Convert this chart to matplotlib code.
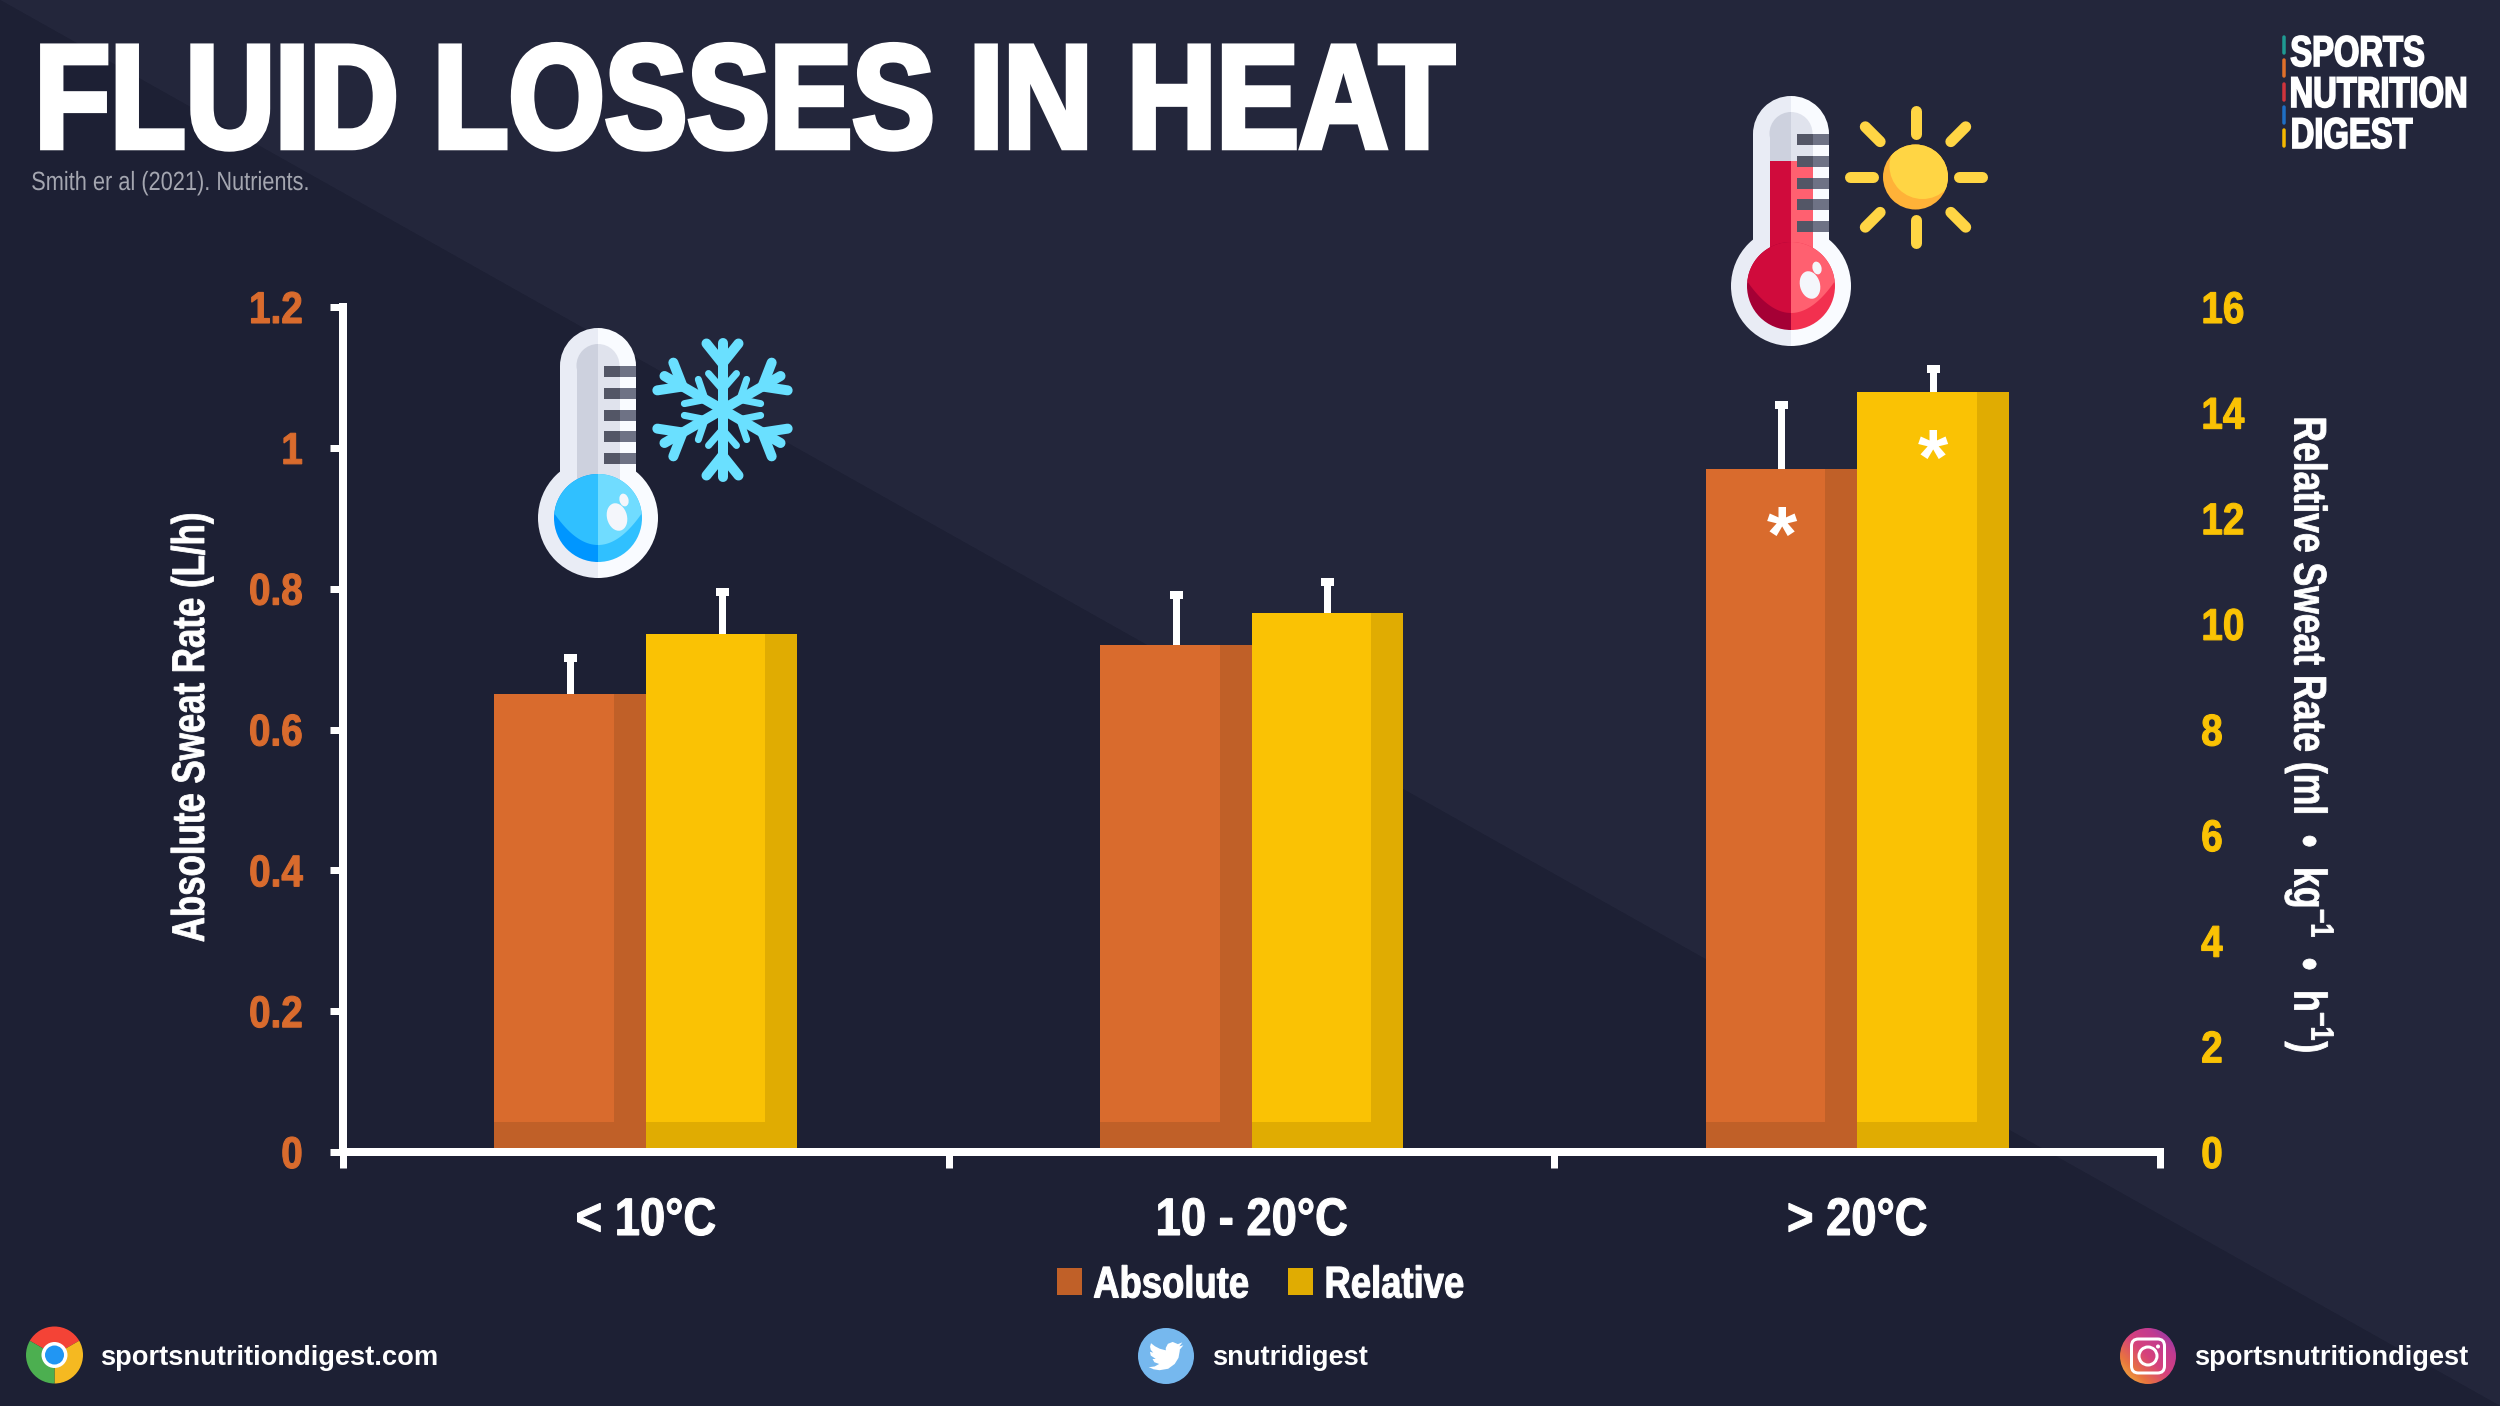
import numpy as np
import matplotlib as mpl
mpl.use("Agg")
import matplotlib.pyplot as plt
import matplotlib.patheffects as pe
from matplotlib.colors import LinearSegmentedColormap
from matplotlib.patches import Circle, Wedge, Rectangle, Polygon, FancyBboxPatch, Patch, Ellipse
from matplotlib.transforms import Affine2D

plt.rcParams['font.family'] = ['Liberation Sans', 'DejaVu Sans']
plt.rcParams['font.weight'] = 'bold'
plt.rcParams['mathtext.fontset'] = 'custom'
plt.rcParams['mathtext.rm'] = 'Liberation Sans:bold'
plt.rcParams['mathtext.default'] = 'regular'

# values
categories = ['< 10°C', '10 - 20°C', '> 20°C']
absolute = [0.65, 0.72, 0.97]
absolute_err = [0.051, 0.071, 0.091]
relative = [9.80, 10.20, 14.40]
relative_err = [0.80, 0.60, 0.42]
abs_stars = [False, False, True]
rel_stars = [False, False, True]
abs_ticks = [0, 0.2, 0.4, 0.6, 0.8, 1, 1.2]
rel_ticks = [0, 2, 4, 6, 8, 10, 12, 14, 16]

BG_LIGHT = '#23263b'
BG_DARK = '#1d2034'
ORANGE, ORANGE_DK = '#d96b2d', '#c06028'
YELLOW, YELLOW_DK = '#fac204', '#e0ac02'
WHITE = '#ffffff'


def px(v):
    # figure is 100 dpi, sizes below were measured in pixels
    return v * 0.72


class Condensed(pe.AbstractPathEffect):
    # no condensed face installed, so squeeze the glyph outlines along the text direction
    def __init__(self, sx, anchor=0.0, stroke=0.0):
        super().__init__()
        self.sx = sx
        self.anchor = anchor
        self.stroke = stroke

    def draw_path(self, renderer, gc, tpath, affine, rgbFace=None):
        ext = tpath.get_extents()
        x0 = ext.x0 + self.anchor * ext.width
        squeeze = Affine2D().translate(-x0, 0).scale(self.sx, 1).translate(x0, 0)
        gc0 = renderer.new_gc()
        gc0.copy_properties(gc)
        if self.stroke:
            gc0.set_linewidth(self.stroke)
            gc0.set_foreground(rgbFace)
            gc0.set_joinstyle('miter')
        renderer.draw_path(gc0, tpath, squeeze + affine, rgbFace)
        gc0.restore()


fig = plt.figure(figsize=(25, 14.06), dpi=100, facecolor=BG_DARK)

# pixel canvas for background, icons and footer
bg = fig.add_axes([0, 0, 1, 1], zorder=0)
bg.set_axis_off()
bg.add_patch(Polygon([(0, 0), (2500, 0), (2500, 1406)], color=BG_LIGHT, lw=0))
bg.add_patch(Polygon([(0, 0), (0, 1406), (2500, 1406)], color=BG_DARK, lw=0))


def half_capsule(cx, cap_y, r, bottom, side, color):
    ang = (90, 270) if side < 0 else (-90, 90)
    bg.add_patch(Wedge((cx, cap_y), r, *ang, color=color, lw=0))
    x0 = cx - r if side < 0 else cx
    bg.add_patch(Rectangle((x0, cap_y), r, bottom - cap_y, color=color, lw=0))


def thermometer(cx, dy, liquid_top, outer, inner, base, light, ticks):
    for i, side in enumerate((-1, 1)):
        ang = (90, 270) if side < 0 else (-90, 90)
        half_capsule(cx, 366 + dy, 38, 518 + dy, side, outer[i])
        bg.add_patch(Wedge((cx, 518 + dy), 60, *ang, color=outer[i], lw=0))
        half_capsule(cx, 365.5 + dy, 21.5, 490 + dy, side, inner[i])
        x0 = cx - 21.5 if side < 0 else cx
        bg.add_patch(Rectangle((x0, liquid_top + dy), 21.5, 495 - liquid_top, color=light[i], lw=0))
        bg.add_patch(Wedge((cx, 518 + dy), 44, *ang, color=base[i], lw=0))
        xs = np.linspace(0, 43.9, 30)
        low = 545 - 32 * (xs / 44) ** 2
        top = 518 - np.sqrt(44 ** 2 - xs ** 2)
        pts = list(zip(cx + side * xs, top + dy)) + list(zip(cx + side * xs[::-1], low[::-1] + dy))
        bg.add_patch(Polygon(pts, color=light[i], lw=0))
    bg.add_patch(Ellipse((cx + 19, 517 + dy), 20, 28, angle=-15, color='#f4f6fb', lw=0))
    bg.add_patch(Ellipse((cx + 26, 500 + dy), 9, 13, angle=-15, color='#f4f6fb', lw=0))
    for y in (366, 388, 410, 431, 453):
        bg.add_patch(Rectangle((cx + 6, y + dy), 16, 11, color=ticks[0], lw=0))
        bg.add_patch(Rectangle((cx + 22, y + dy), 16, 11, color=ticks[1], lw=0))


OUTER = ('#e9ecf5', '#f9fbff')
INNER = ('#cdd1de', '#e0e3ed')
TICKS = ('#535666', '#6e7285')
thermometer(598, 0, 480, OUTER, INNER, ('#0096ff', '#30c0ff'), ('#30c0ff', '#70dcff'), TICKS)
thermometer(1791, -232, 393, OUTER, INNER, ('#a50035', '#f2304f'), ('#d00b3c', '#ff6070'), TICKS)

# snowflake
SNOW = '#6ae0ff'
c = np.array([722.5, 409.5])
for a in np.deg2rad([30, 90, 150, 210, 270, 330]):
    u = np.array([np.cos(a), np.sin(a)])
    v = np.array([-u[1], u[0]])
    bg.plot(*np.c_[c, c + u * 67], color=SNOW, lw=px(10), solid_capstyle='round')
    for s in (-1, 1):
        bg.plot(*np.c_[c + u * 46, c + u * 66 + v * s * 16], color=SNOW, lw=px(10), solid_capstyle='round')
        bg.plot(*np.c_[c + u * 20, c + u * 36 + v * s * 14], color=SNOW, lw=px(7), solid_capstyle='round')

# sun
SUN = '#ffd544'
sx, sy = 1915.5, 177
sun_base = Circle((sx, sy), 32.5, color='#ffb238', lw=0)
bg.add_patch(sun_base)
sun_top = Circle((sx + 7, sy - 11), 33, color=SUN, lw=0)
bg.add_patch(sun_top)
sun_top.set_clip_path(sun_base)
for deg in range(0, 360, 45):
    a = np.deg2rad(deg)
    r0, r1 = (43, 66) if deg % 90 == 0 else (50, 71)
    u = np.array([np.cos(a), np.sin(a)])
    bg.plot([sx + u[0] * r0, sx + u[0] * r1], [sy + u[1] * r0, sy + u[1] * r1], color=SUN, lw=px(11),
            solid_capstyle='round')

# logo
bar_cols = ['#1f9a92', '#e0702a', '#d0343c', '#1f6fc4', '#f5b800']
bar_y = [35, 58.5, 82, 105, 128]
for col, y in zip(bar_cols, bar_y):
    bg.plot([2283.5, 2283.5], [y + 1.5, y + 17.5], color=col, lw=px(3.5), solid_capstyle='round')
bg.text(2290, 66, 'SPORTS', color=WHITE, fontsize=31, va='baseline', ha='left',
        path_effects=[Condensed(0.76, 0, 1.2)])
bg.text(2468, 107, 'NUTRITION', color=WHITE, fontsize=31, va='baseline', ha='right',
        path_effects=[Condensed(0.76, 1, 1.2)])
bg.text(2290, 148, 'DIGEST', color=WHITE, fontsize=31, va='baseline', ha='left',
        path_effects=[Condensed(0.76, 0, 1.2)])

# title
bg.text(33, 147.5, 'FLUID LOSSES IN HEAT', color=WHITE, fontsize=106, va='baseline', ha='left',
        path_effects=[Condensed(0.84, 0, 4)])
bg.text(31, 190, 'Smith er al (2021). Nutrients.', color='#a4a6b0', fontsize=19, weight='normal',
        va='baseline', ha='left', path_effects=[Condensed(0.825)])

# footer
FOOT = ['Liberation Sans', 'DejaVu Sans']
bg.text(100, 1365, 'sportsnutritiondigest.com', color=WHITE, fontsize=19.6, family=FOOT, va='baseline')
bg.text(1212, 1365, 'snutridigest', color=WHITE, fontsize=19.6, family=FOOT, va='baseline')
bg.text(2194, 1365, 'sportsnutritiondigest', color=WHITE, fontsize=19.6, family=FOOT, va='baseline')

# chrome icon
ic = (54.5, 1355)
for col, a0, a1 in (('#f44336', 210, 330), ('#f5b921', 330, 450), ('#4caf50', 90, 210)):
    bg.add_patch(Wedge(ic, 28.5, a0, a1, color=col, lw=0))
bg.add_patch(Circle(ic, 13, color=WHITE, lw=0))
bg.add_patch(Circle(ic, 9.5, color='#2196f3', lw=0))

# twitter icon
bg.add_patch(Circle((1166, 1356), 28, color='#76b8ee', lw=0))
bird = np.array([(24, 4.6), (21.2, 5.35), (23.3, 2.6), (20.2, 3.8), (16.6, 2.3), (13.3, 3.6), (11.8, 6.5),
                 (11.9, 8.1), (7.7, 7.0), (4.4, 5.3), (1.64, 3.16), (1, 5.6), (1.5, 7.8), (3.2, 9.7),
                 (0.93, 9.1), (1.5, 11.7), (4.9, 14.0), (2.7, 14.1), (4.0, 16.3), (7.3, 17.5), (4.2, 19.2),
                 (1.2, 19.6), (0, 19.6), (3.5, 21.2), (7.55, 21.8), (13.5, 20.8), (18, 17.5), (20.6, 13.3),
                 (21.5, 8.4), (21.5, 7.6)])
bg.add_patch(Polygon(bird * 1.45 + [1166 - 17.4, 1356 - 17.4], color=WHITE, lw=0))

# instagram icon
ig_cmap = LinearSegmentedColormap.from_list('ig', ['#f2c53c', '#e8743f', '#d6417c', '#c23b90', '#7e3bb5'])
gx, gy = np.meshgrid(np.linspace(0, 1, 60), np.linspace(0, 1, 60))
ig_im = bg.imshow((gx + gy) / 2, cmap=ig_cmap, extent=(2120, 2176, 1384, 1328), origin='lower', aspect='auto',
                  zorder=2)
ig_im.set_clip_path(Circle((2148, 1356), 28, transform=bg.transData))
bg.add_patch(FancyBboxPatch((2135, 1342.5), 26, 27, boxstyle='round,pad=3.5,rounding_size=7',
                            fc='none', ec=WHITE, lw=px(3), zorder=3))
bg.add_patch(Circle((2148, 1356), 9, fc='none', ec=WHITE, lw=px(3), zorder=3))
bg.add_patch(Circle((2158, 1346.5), 2, color=WHITE, lw=0, zorder=3))

bg.set_xlim(0, 2500)
bg.set_ylim(1406, 0)

# chart
ax = fig.add_axes([343 / 2500, 1 - 1152 / 1406, (2160 - 343) / 2500, (1152 - 307) / 1406], zorder=3)
ax2 = ax.twinx()
ax2.set_zorder(2)
ax.patch.set_visible(False)
ax2.patch.set_visible(False)

x = np.arange(len(categories)) + 0.5
w = 0.25
shade = 0.79
ax.set_xlim(0, 3)
ax.set_ylim(0, 1.2)
ax2.set_ylim(0, 16)


def draw_bars(axis, xpos, vals, errs, light, dark, base):
    axis.bar(xpos, vals, w, color=dark, lw=0, zorder=2)
    axis.bar(xpos - w / 2, np.array(vals) - base, w * shade, bottom=base, align='edge', color=light, lw=0, zorder=2)
    eb = axis.errorbar(xpos, vals, yerr=[np.zeros(len(vals)), errs], fmt='none', ecolor=WHITE,
                       elinewidth=px(7), capsize=px(6.5), capthick=px(8), zorder=1.5)
    eb[1][0].set_visible(False)


draw_bars(ax, x - w / 2, absolute, absolute_err, ORANGE, ORANGE_DK, 0.043)
draw_bars(ax2, x + w / 2, relative, relative_err, YELLOW, YELLOW_DK, 0.043 * 16 / 1.2)

# significance marks
for xp, v, s in zip(x - w / 2, absolute, abs_stars):
    if s:
        ax.text(xp, v - 0.101, '*', color=WHITE, fontsize=56, ha='center', va='center', zorder=6)
for xp, v, s in zip(x + w / 2, relative, rel_stars):
    if s:
        ax2.text(xp, v - 1.36, '*', color=WHITE, fontsize=56, ha='center', va='center', zorder=6)

for s in ('top', 'right'):
    ax.spines[s].set_visible(False)
for s in ('top', 'right', 'left', 'bottom'):
    ax2.spines[s].set_visible(False)
for s in ('left', 'bottom'):
    ax.spines[s].set_linewidth(px(8))
    ax.spines[s].set_color(WHITE)

ax.set_yticks(abs_ticks)
ax.set_yticklabels(['0', '0.2', '0.4', '0.6', '0.8', '1', '1.2'])
ax.tick_params(axis='y', colors=WHITE, labelcolor=ORANGE, labelsize=32, length=px(13), width=px(7), pad=px(27))
ax2.set_yticks(rel_ticks)
ax2.set_yticklabels([str(t) for t in rel_ticks])
ax2.tick_params(axis='y', labelcolor=YELLOW, labelsize=32, length=0, pad=px(41))
for lbl in ax.get_yticklabels():
    lbl.set_path_effects([Condensed(0.87, 1, 0.8)])
for lbl in ax2.get_yticklabels():
    lbl.set_path_effects([Condensed(0.87, 0, 0.8)])

ax.set_xticks([0, 1, 2, 3])
ax.set_xticklabels([])
ax.tick_params(axis='x', which='major', colors=WHITE, length=px(16), width=px(7))
ax.set_xticks(x, minor=True)
ax.set_xticklabels(categories, minor=True)
ax.tick_params(axis='x', which='minor', length=0, labelsize=38, labelcolor=WHITE, pad=px(44))
for lbl in ax.get_xticklabels(minor=True):
    lbl.set_path_effects([Condensed(0.86, 0.5, 0.8)])

fig.text(192 / 2500, 1 - 727 / 1406, 'Absolute Sweat Rate (L/h)', color=WHITE, fontsize=33, rotation=90,
         ha='center', va='center', path_effects=[Condensed(0.76, 0.5, 0.6)])
fig.text(2309 / 2500, 1 - 735 / 1406, 'Relative Sweat Rate (ml  •  kg$^{-1}$  •  h$^{-1}$)', color=WHITE,
         fontsize=33, rotation=-90, ha='center', va='center', path_effects=[Condensed(0.775, 0.5, 0.6)])

handles = [Patch(color=ORANGE_DK, lw=0, label='Absolute'), Patch(color=YELLOW_DK, lw=0, label='Relative')]
leg = ax.legend(handles=handles, loc='center', bbox_to_anchor=(1276 / 2500, 1 - 1286 / 1406),
                bbox_transform=fig.transFigure, ncol=2, frameon=False, fontsize=32, labelcolor=WHITE,
                handlelength=0.55, handleheight=0.55, handletextpad=0.25, columnspacing=0.11,
                borderpad=0, borderaxespad=0)
for t in leg.get_texts():
    t.set_path_effects([Condensed(0.82, 0, 0.8)])

fig.savefig('out.png', dpi=100, facecolor=fig.get_facecolor())
